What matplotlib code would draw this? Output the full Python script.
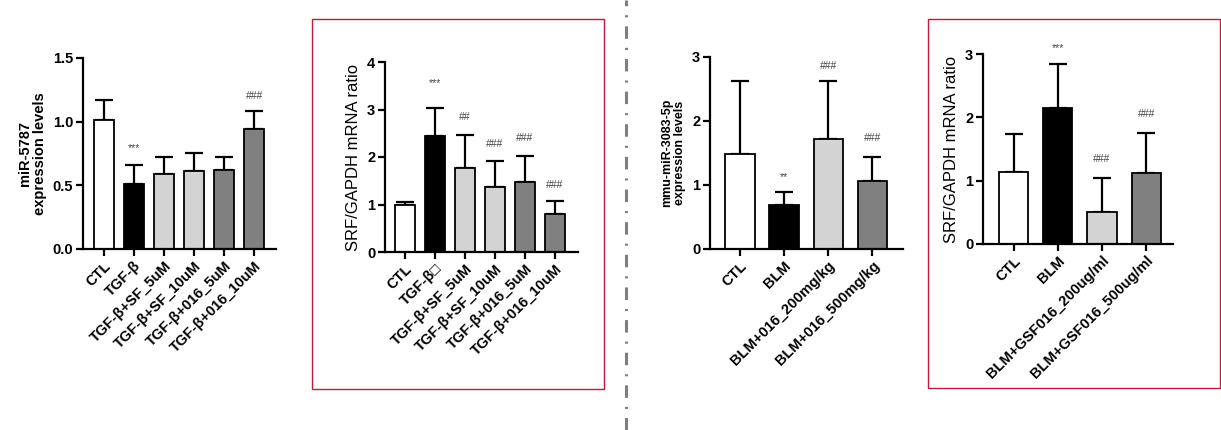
import matplotlib
matplotlib.use('Agg')
import matplotlib.pyplot as plt
from matplotlib.patches import Rectangle
from matplotlib.lines import Line2D
import numpy as np

plt.rcParams['font.family'] = ['Liberation Sans', 'DejaVu Sans']
plt.rcParams['lines.scale_dashes'] = False

# Panel 1: miR-5787 in cells
p1_labels = ['CTL', 'TGF-β', 'TGF-β+SF_5uM', 'TGF-β+SF_10uM', 'TGF-β+016_5uM', 'TGF-β+016_10uM']
p1_mean = [1.01, 0.51, 0.59, 0.61, 0.62, 0.94]
p1_err = [0.16, 0.15, 0.13, 0.14, 0.10, 0.14]
p1_marks = ['', '***', '', '', '', '###']
p1_mark_y = [0, 0.79, 0, 0, 0, 1.20]

# Panel 2: SRF/GAPDH in cells
p2_labels = ['CTL', 'TGF-β□', 'TGF-β+SF_5uM', 'TGF-β+SF_10uM', 'TGF-β+016_5uM', 'TGF-β+016_10uM']
p2_mean = [0.99, 2.45, 1.76, 1.37, 1.47, 0.80]
p2_err = [0.07, 0.59, 0.70, 0.55, 0.55, 0.28]
p2_marks = ['', '***', '##', '###', '###', '###']
p2_mark_y = [0, 3.56, 2.85, 2.27, 2.39, 1.42]

# Panel 3: mmu-miR-3083-5p in mice
p3_labels = ['CTL', 'BLM', 'BLM+016_200mg/kg', 'BLM+016_500mg/kg']
p3_mean = [1.49, 0.69, 1.72, 1.07]
p3_err = [1.13, 0.20, 0.90, 0.37]
p3_marks = ['', '**', '###', '###']
p3_mark_y = [0, 1.12, 2.86, 1.73]

# Panel 4: SRF/GAPDH in mice
p4_labels = ['CTL', 'BLM', 'BLM+GSF016_200ug/ml', 'BLM+GSF016_500ug/ml']
p4_mean = [1.13, 2.14, 0.50, 1.12]
p4_err = [0.61, 0.71, 0.54, 0.64]
p4_marks = ['', '***', '###', '###']
p4_mark_y = [0, 3.10, 1.34, 2.06]

cell_colors = ['white', 'black', '#d3d3d3', '#d3d3d3', '#808080', '#808080']
mouse_colors = ['white', 'black', '#d3d3d3', '#808080']

fig = plt.figure(figsize=(12.21, 4.30), dpi=100)
W, H = 1221, 430


def make_axes(x0, x1, ytop, ybot):
    return fig.add_axes([x0 / W, 1 - ybot / H, (x1 - x0) / W, (ybot - ytop) / H])


def draw_panel(ax, labels, mean, err, marks, mark_y, colors, xlim, ymax, yticks,
               ytl, width, ylabel, ylfont, ylweight):
    x = np.arange(len(mean))
    ax.bar(x, mean, width=width, color=colors, edgecolor='black', linewidth=1.3, zorder=2)
    ax.errorbar(x, mean, yerr=[np.zeros(len(err)), err], fmt='none', ecolor='black',
                elinewidth=1.6, capsize=6.5, capthick=1.6, zorder=1)
    for xi, m, my in zip(x, marks, mark_y):
        if m:
            ax.text(xi, my, m, ha='center', va='center', fontsize=7.5, color='#444444')
    ax.set_xlim(*xlim)
    ax.set_ylim(0, ymax)
    ax.set_yticks(yticks)
    ax.set_yticklabels(ytl, fontsize=10.5, fontweight='bold')
    ax.set_xticks(x)
    ax.set_xticklabels(labels, rotation=45, ha='right', rotation_mode='anchor',
                       fontsize=10.5, fontweight='bold')
    for s in ['top', 'right']:
        ax.spines[s].set_visible(False)
    for s in ['left', 'bottom']:
        ax.spines[s].set_linewidth(1.6)
    ax.tick_params(width=1.6, length=5, direction='out', pad=2)
    ax.set_ylabel(ylabel, fontsize=ylfont, fontweight=ylweight, labelpad=4, linespacing=1.1)


ax1 = make_axes(83, 276, 58, 249)
draw_panel(ax1, p1_labels, p1_mean, p1_err, p1_marks, p1_mark_y, cell_colors,
           (-0.7, 5.73), 1.5, [0, 0.5, 1.0, 1.5], ['0.0', '0.5', '1.0', '1.5'], 0.67,
           'miR-5787\nexpression levels', 10.5, 'bold')

ax2 = make_axes(385, 578, 62, 252)
draw_panel(ax2, p2_labels, p2_mean, p2_err, p2_marks, p2_mark_y, cell_colors,
           (-0.67, 5.77), 4, [0, 1, 2, 3, 4], ['0', '1', '2', '3', '4'], 0.67,
           'SRF/GAPDH mRNA ratio', 12, 'normal')

ax3 = make_axes(710, 903, 57, 249)
draw_panel(ax3, p3_labels, p3_mean, p3_err, p3_marks, p3_mark_y, mouse_colors,
           (-0.68, 3.70), 3, [0, 1, 2, 3], ['0', '1', '2', '3'], 0.66,
           'mmu-miR-3083-5p\nexpression levels', 9, 'bold')

ax4 = make_axes(983, 1173, 54, 244)
draw_panel(ax4, p4_labels, p4_mean, p4_err, p4_marks, p4_mark_y, mouse_colors,
           (-0.7, 3.61), 3, [0, 1, 2, 3], ['0', '1', '2', '3'], 0.66,
           'SRF/GAPDH mRNA ratio', 12, 'normal')

# red frames around the SRF panels
for (x0, y0, x1, y1) in [(312, 19, 604, 389), (928, 19, 1220, 388)]:
    fig.add_artist(Rectangle((x0 / W, 1 - y1 / H), (x1 - x0) / W, (y1 - y0) / H,
                             transform=fig.transFigure, fill=False,
                             edgecolor='#c8173c', linewidth=1.0))

# dash-dot divider
fig.add_artist(Line2D([626 / W, 626 / W], [0, 1], transform=fig.transFigure,
                      color='#7f7f7f', linewidth=2.2, dashes=(9, 6.5, 1.5, 6.5)))

fig.savefig('out.png', dpi=100)
